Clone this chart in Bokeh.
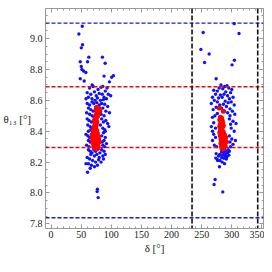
from bokeh.plotting import figure
from bokeh.models import (LinearAxis, SingleIntervalTicker, PrintfTickFormatter,
                          Span, Range1d)
from bokeh.embed import file_html
from bokeh.resources import INLINE

# ---- data ----
blue_points = [
    (51.8, 9.08), (46.2, 9.03), (52.3, 8.96), (50.2, 8.94), (62.7, 8.88), (60.6, 8.85),
    (48.5, 8.85), (85.3, 8.88), (89.8, 8.84), (50.2, 8.82), (51.2, 8.80), (54, 8.79),
    (57.8, 8.78), (48.5, 8.74), (55, 8.725), (103.5, 8.76), (100.7, 8.75), (96.9, 8.72),
    (88, 8.757), (68.3, 8.70),
    (64, 8.68), (70, 8.69), (78, 8.67), (83, 8.685), (86, 8.69), (90, 8.66), (93, 8.68),
    (60, 8.65), (66, 8.64), (72, 8.655), (75, 8.63), (80, 8.645), (85, 8.64), (88, 8.62),
    (95, 8.64), (62, 8.62), (68, 8.61), (73, 8.60), (77, 8.615), (82, 8.60), (87, 8.605),
    (92, 8.61), (58, 8.61), (99, 8.63),
    (60, 8.58), (64, 8.57), (68, 8.59), (71, 8.58), (76, 8.585), (80, 8.57), (84, 8.58),
    (89, 8.575), (94, 8.56), (62, 8.55), (66, 8.54), (70, 8.53), (74, 8.555), (79, 8.54),
    (86, 8.55), (91, 8.53), (97, 8.52), (59, 8.52), (64, 8.51), (68, 8.50), (83, 8.51),
    (88, 8.50),
    (60, 8.48), (63, 8.47), (67, 8.46), (72, 8.49), (84, 8.48), (87, 8.46), (91, 8.47),
    (94, 8.45), (61, 8.44), (65, 8.43), (69, 8.42), (82, 8.44), (86, 8.42), (89, 8.41),
    (96, 8.43), (62, 8.40), (66, 8.41), (90, 8.40),
    (58, 8.38), (61, 8.37), (64, 8.36), (67, 8.38), (84, 8.37), (87, 8.39), (90, 8.36),
    (62, 8.34), (65, 8.33), (85, 8.33), (88, 8.34), (92, 8.32), (59, 8.31), (63, 8.30),
    (86, 8.31), (89, 8.30),
    (62, 8.28), (65, 8.27), (68, 8.26), (71, 8.28), (74, 8.27), (78, 8.285), (81, 8.26),
    (84, 8.28), (88, 8.27), (66, 8.25), (72, 8.24), (76, 8.25), (80, 8.23), (86, 8.24),
    (90, 8.25), (60, 8.23), (64, 8.22), (69, 8.21), (74, 8.20), (79, 8.215), (83, 8.20),
    (87, 8.22), (62, 8.19), (67, 8.18), (72, 8.17), (77, 8.18), (58, 8.19), (65, 8.16),
    (60.6, 8.134), (77, 8.024), (76.5, 8.009), (78.2, 7.97),
    (304, 9.097), (252.5, 9.04), (312, 9.033), (248.7, 8.93), (262.4, 8.90), (254.8, 8.845),
    (304.3, 8.86), (300.4, 8.83), (274, 8.74),
    (282, 8.70), (288, 8.69), (292, 8.695), (279, 8.68), (285, 8.675), (295, 8.68),
    (300, 8.67), (270, 8.665), (276, 8.66), (290, 8.655), (298, 8.65), (273, 8.64),
    (281, 8.635), (287, 8.64), (293, 8.63), (268, 8.62), (278, 8.615), (284, 8.62),
    (296, 8.61), (302, 8.62), (271, 8.60), (276, 8.59), (289, 8.595), (294, 8.585),
    (299, 8.59), (266, 8.58), (280, 8.57), (286, 8.575), (291, 8.56), (304, 8.57),
    (274, 8.555), (283, 8.55), (297, 8.545), (269, 8.54), (288, 8.53), (293, 8.52),
    (301, 8.53), (276, 8.515), (272, 8.50), (297, 8.50), (305, 8.51), (268, 8.49),
    (296, 8.48), (302, 8.465), (270, 8.455), (298, 8.445), (307, 8.45), (266, 8.43),
    (273, 8.42), (299, 8.42), (304, 8.40), (268, 8.40), (270, 8.38), (296, 8.37),
    (273, 8.36), (300, 8.35), (268, 8.34), (297, 8.33), (302, 8.315), (275, 8.30),
    (298, 8.30), (271, 8.31), (306, 8.34),
    (285, 8.28), (288, 8.275), (291, 8.27), (294, 8.28), (283, 8.265), (287, 8.26),
    (290, 8.255), (293, 8.26), (296, 8.27), (280, 8.25), (285, 8.245), (289, 8.24),
    (292, 8.235), (295, 8.245), (274, 8.255), (278, 8.24), (283, 8.23), (287, 8.225),
    (291, 8.22), (276, 8.215), (280, 8.21), (273.4, 8.226), (276.7, 8.21), (279.5, 8.17),
    (284, 8.20), (288, 8.19),
    (272.3, 8.087), (270.6, 8.055), (285, 8.007),
]
red_points = [
    (76, 8.555), (78, 8.55), (80, 8.545), (75, 8.54), (79, 8.535), (77, 8.525), (81, 8.53),
    (76, 8.515), (78, 8.51), (74, 8.50), (77, 8.495), (73, 8.485), (75, 8.475), (72, 8.47),
    (76, 8.46), (74, 8.455), (73, 8.445), (75, 8.44), (72, 8.43), (74, 8.425), (71, 8.415),
    (73, 8.41), (76, 8.405), (70, 8.40), (72, 8.395), (74, 8.39), (77, 8.385), (69, 8.38),
    (71, 8.375), (73, 8.37), (75, 8.37), (78, 8.365), (68, 8.36), (70, 8.355), (72, 8.35),
    (74, 8.35), (76, 8.345), (79, 8.35), (69, 8.34), (71, 8.335), (73, 8.33), (75, 8.33),
    (77, 8.325), (80, 8.33), (70, 8.32), (72, 8.315), (74, 8.31), (76, 8.31), (78, 8.305),
    (71, 8.30), (73, 8.30), (75, 8.295), (77, 8.29), (74, 8.285),
    (279, 8.55), (286, 8.53), (281, 8.49), (283, 8.485), (280, 8.475), (284, 8.47),
    (282, 8.46), (285, 8.455), (281, 8.445), (283, 8.44), (286, 8.435), (280, 8.43),
    (282, 8.42), (284, 8.415), (281, 8.405), (283, 8.40), (286, 8.395), (280, 8.39),
    (282, 8.385), (285, 8.38), (288, 8.375), (281, 8.37), (283, 8.365), (286, 8.36),
    (289, 8.355), (282, 8.35), (284, 8.345), (287, 8.34), (283, 8.335), (285, 8.33),
    (288, 8.325), (282, 8.32), (284, 8.315), (286, 8.31), (289, 8.305), (283, 8.30),
    (285, 8.295), (287, 8.29), (284, 8.285), (290, 8.36), (291, 8.33),
]
blue_delta = [d for d, t in blue_points]
blue_theta = [t for d, t in blue_points]
red_delta = [d for d, t in red_points]
red_theta = [t for d, t in red_points]

blue_hlines = [9.10, 7.84]
red_hlines = [8.688, 8.295]
black_vlines = [234, 343]

x_label = "δ [°]"
y_label = "θ₁₃ [°]"

FONT = "'Liberation Serif', serif"

p = figure(width=264, height=256, output_backend="svg", toolbar_location=None,
           x_range=Range1d(-9.2, 352.6), y_range=Range1d(7.77, 9.195),
           x_axis_location=None, y_axis_location=None,
           min_border_left=44, min_border_right=1, min_border_top=8, min_border_bottom=0)
p.grid.visible = False
p.background_fill_color = "white"
p.border_fill_color = "white"
p.outline_line_color = "#999999"
p.outline_line_width = 1

frame_col = "#999999"

def mk_axis(kind, labels):
    if kind == "x":
        tk = SingleIntervalTicker(interval=50, num_minor_ticks=5)
    else:
        tk = SingleIntervalTicker(interval=0.2, num_minor_ticks=4)
    ax = LinearAxis(ticker=tk)
    ax.axis_line_color = frame_col
    ax.major_tick_line_color = frame_col
    ax.minor_tick_line_color = frame_col
    ax.major_tick_in = 4
    ax.major_tick_out = 0
    ax.minor_tick_in = 2
    ax.minor_tick_out = 0
    if labels:
        ax.major_label_text_font = FONT
        ax.major_label_text_font_size = "10px"
        ax.major_label_text_color = "#222222"
        ax.major_label_standoff = 3
        if kind == "y":
            ax.formatter = PrintfTickFormatter(format="%.1f")
    else:
        ax.major_label_text_font_size = "0px"
        ax.major_label_text_color = None
        ax.major_label_standoff = 0
    return ax

xb = mk_axis("x", True)
xb.axis_label = x_label
xb.axis_label_text_font = FONT
xb.axis_label_text_font_size = "11px"
xb.axis_label_text_font_style = "normal"
xb.axis_label_text_color = "#222222"
xb.major_label_standoff = 2
xb.axis_label_standoff = 1
p.add_layout(xb, "below")
p.add_layout(mk_axis("x", False), "above")

yl = mk_axis("y", True)
yl.axis_label = y_label
yl.axis_label_orientation = "horizontal"
yl.axis_label_text_font = FONT
yl.axis_label_text_font_size = "11px"
yl.axis_label_text_font_style = "normal"
yl.axis_label_text_color = "#222222"
yl.axis_label_standoff = -4
yl.major_label_standoff = 3
p.add_layout(yl, "left")
p.add_layout(mk_axis("y", False), "right")

for v in blue_hlines:
    p.add_layout(Span(location=v, dimension="width", line_color="#1a1ad0",
                      line_width=1.4, line_dash="4 2"))
for v in red_hlines:
    p.add_layout(Span(location=v, dimension="width", line_color="#e01010",
                      line_width=1.4, line_dash="4 2"))
for v in black_vlines:
    p.add_layout(Span(location=v, dimension="height", line_color="#111111",
                      line_width=1.6, line_dash="5 2"))

p.scatter(blue_delta, blue_theta, size=3.4, fill_color="#1010ff", line_color=None)
p.scatter(red_delta, red_theta, size=5, fill_color="#ff0000", line_color=None)

open("out.html", "w").write(file_html(p, INLINE))
